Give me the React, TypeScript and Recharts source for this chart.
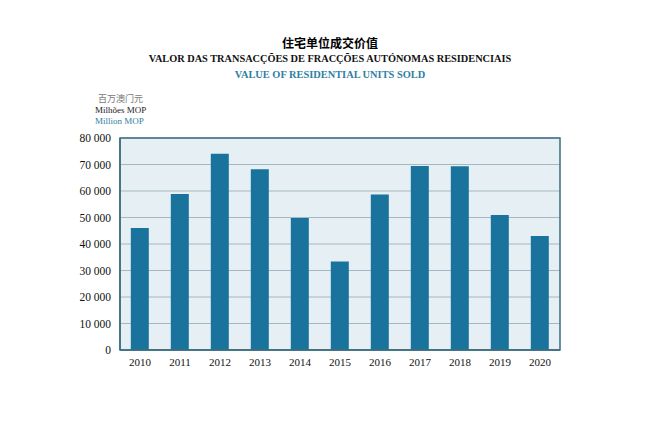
import { BarChart, Bar, XAxis, YAxis, CartesianGrid, ReferenceArea } from 'recharts';

const years = ['2010', '2011', '2012', '2013', '2014', '2015', '2016', '2017', '2018', '2019', '2020'];
const values = [46000, 58900, 74100, 68200, 49800, 33400, 58700, 69400, 69300, 50900, 43000];
const yTicks = [0, 10000, 20000, 30000, 40000, 50000, 60000, 70000, 80000];

const data = years.map((year, i) => ({ year, value: values[i] }));

const serif = '"Liberation Serif", "DejaVu Serif", serif';
const cjk = '"Noto Sans CJK SC", sans-serif';
const teal = '#2f7fa3';

// "80 000" style thousands separator
const fmt = (v: number) => String(v).replace(/\B(?=(\d{3})+(?!\d))/g, ' ');

const line = (top: number, h: number) => ({ position: 'absolute' as const, top, height: h, lineHeight: `${h}px`, whiteSpace: 'nowrap' as const });

const tickStyle = { fill: '#111', fontFamily: serif, style: { fontFamily: serif } };

export default function App() {
  return (
    <div style={{ position: 'absolute', left: 0, top: 0, width: 660, height: 436, background: '#fff' }}>
      <div style={{ ...line(36, 14), width: 660, textAlign: 'center', fontFamily: cjk, fontWeight: 700, fontSize: 12, color: '#000' }}>
        住宅单位成交价值
      </div>
      <div style={{ ...line(52, 14), width: 660, textAlign: 'center', fontFamily: serif, fontWeight: 700, fontSize: 10.3, color: '#111' }}>
        VALOR DAS TRANSACÇÕES DE FRACÇÕES AUTÓNOMAS RESIDENCIAIS
      </div>
      <div style={{ ...line(68, 14), width: 660, textAlign: 'center', fontFamily: serif, fontWeight: 700, fontSize: 10.4, color: teal }}>
        VALUE OF RESIDENTIAL UNITS SOLD
      </div>
      <div style={{ ...line(93, 11), left: 98, fontFamily: cjk, fontSize: 9, color: '#777' }}>百万澳门元</div>
      <div style={{ ...line(104.5, 11), left: 95, fontFamily: serif, fontSize: 9, color: '#222' }}>Milhões MOP</div>
      <div style={{ ...line(115.5, 11), left: 95, fontFamily: serif, fontSize: 9, color: teal }}>Million MOP</div>
      <div style={{ position: 'absolute', left: 0, top: 0 }}>
        <BarChart
          width={660}
          height={436}
          data={data}
          margin={{ top: 138, right: 100, bottom: 56, left: 60 }}
          barCategoryGap="27%"
        >
          <CartesianGrid vertical={false} stroke="#a3b8c2" strokeWidth={1.2} fill="#e6eff4" fillOpacity={1} />
          <XAxis
            dataKey="year"
            height={30}
            axisLine={{ stroke: '#3d6e7f', strokeWidth: 1.5 }}
            tickLine={false}
            tick={{ ...tickStyle, fontSize: 11 }}
            tickMargin={2}
            interval={0}
          />
          <YAxis
            width={60}
            domain={[0, 80000]}
            ticks={yTicks}
            tickFormatter={fmt}
            axisLine={{ stroke: '#3d6e7f', strokeWidth: 1.5 }}
            tickLine={false}
            tick={{ ...tickStyle, fontSize: 11.5 }}
            tickMargin={3}
          />
          <Bar dataKey="value" fill="#19739d" isAnimationActive={false} />
          <ReferenceArea y1={0} y2={80000} fill="none" stroke="#3d6e7f" strokeWidth={1.5} ifOverflow="visible" />
        </BarChart>
      </div>
    </div>
  );
}
